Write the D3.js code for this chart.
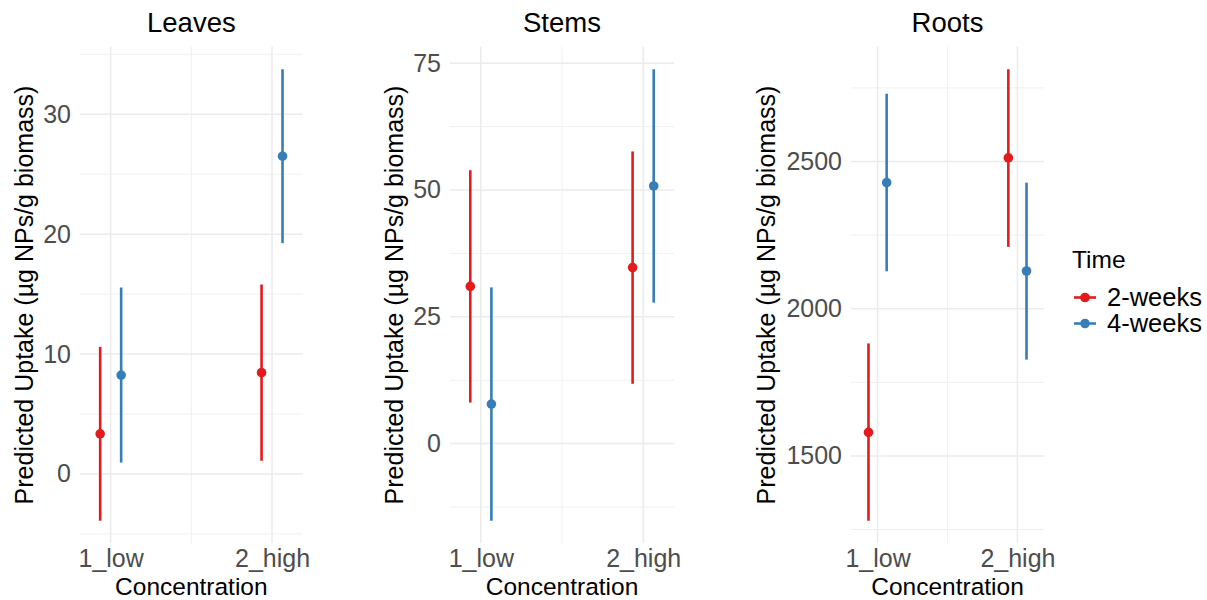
<!DOCTYPE html>
<html>
<head>
<meta charset="utf-8">
<script src="https://cdn.jsdelivr.net/npm/d3@7"></script>
<style>
  body { margin: 0; background: #fff; }
  text { font-family: "Liberation Sans", Arial, Helvetica, sans-serif; }
</style>
</head>
<body>
<svg id="chart"></svg>
<script>
// categories and series
const categories = ["1_low", "2_high"];
const times = ["2-weeks", "4-weeks"];
const panelNames = ["Leaves", "Stems", "Roots"];
const colors = ["#E41A1C", "#377EB8"];

// rows: 2-weeks, 4-weeks ; columns: 1_low, 2_high
const leavesFit   = [[3.35, 8.45], [8.25, 26.5]];
const leavesLower = [[-3.9, 1.1], [0.95, 19.25]];
const leavesUpper = [[10.6, 15.8], [15.55, 33.75]];

const stemsFit   = [[31.0, 34.7], [7.8, 50.8]];
const stemsLower = [[8.1, 11.8], [-15.2, 27.8]];
const stemsUpper = [[53.9, 57.6], [30.8, 73.8]];

const rootsFit   = [[1580, 2512], [2428, 2128]];
const rootsLower = [[1280, 2210], [2127, 1827]];
const rootsUpper = [[1882, 2813], [2730, 2428]];

// tick labels
const leavesTicks = [0, 10, 20, 30];
const leavesMinor = [-5, 5, 15, 25, 35];
const stemsTicks = [0, 25, 50, 75];
const stemsMinor = [-12.5, 12.5, 37.5, 62.5];
const rootsTicks = [1500, 2000, 2500];
const rootsMinor = [1250, 1750, 2250, 2750];

const yTitle = "Predicted Uptake (µg NPs/g biomass)";
const xTitle = "Concentration";

const W = 1207, H = 600;
const panelTop = 46.7, panelBottom = 543.3;

const panels = [
    { name: panelNames[0], fit: leavesFit, lo: leavesLower, hi: leavesUpper, ticks: leavesTicks, minor: leavesMinor, x0: 80, x1: 302.7, titleX: 33 },
    { name: panelNames[1], fit: stemsFit, lo: stemsLower, hi: stemsUpper, ticks: stemsTicks, minor: stemsMinor, x0: 450, x1: 674, titleX: 403 },
    { name: panelNames[2], fit: rootsFit, lo: rootsLower, hi: rootsUpper, ticks: rootsTicks, minor: rootsMinor, x0: 851, x1: 1044, titleX: 775 }
];

const svg = d3.select("#chart").attr("width", W).attr("height", H);

const dodge = 0.065;

panels.forEach(p => {
    const g = svg.append("g");

    // x: positions 1 and 2, with ggplot-ish padding
    const x = d3.scaleLinear().domain([0.81, 2.19]).range([p.x0, p.x1]);

    const minV = d3.min(p.lo.flat()), maxV = d3.max(p.hi.flat());
    const pad = (maxV - minV) * 0.05;
    const y = d3.scaleLinear().domain([minV - pad, maxV + pad]).range([panelBottom, panelTop]);

    // minor grid
    g.selectAll(".minor").data(p.minor).enter().append("line")
        .attr("x1", p.x0).attr("x2", p.x1)
        .attr("y1", d => y(d)).attr("y2", d => y(d))
        .attr("stroke", "#f0f0f0").attr("stroke-width", 1);
    g.append("line")
        .attr("x1", x(1.5)).attr("x2", x(1.5))
        .attr("y1", panelTop).attr("y2", panelBottom)
        .attr("stroke", "#f0f0f0").attr("stroke-width", 1);

    // major grid
    g.selectAll(".major").data(p.ticks).enter().append("line")
        .attr("x1", p.x0).attr("x2", p.x1)
        .attr("y1", d => y(d)).attr("y2", d => y(d))
        .attr("stroke", "#ebebeb").attr("stroke-width", 1.5);
    g.selectAll(".vmajor").data(categories).enter().append("line")
        .attr("x1", (d, i) => x(i + 1)).attr("x2", (d, i) => x(i + 1))
        .attr("y1", panelTop).attr("y2", panelBottom)
        .attr("stroke", "#ebebeb").attr("stroke-width", 1.5);

    // y axis labels
    const yAxis = g.append("g")
        .attr("transform", `translate(${p.x0},0)`)
        .call(d3.axisLeft(y).tickValues(p.ticks).tickFormat(d3.format("d")).tickSize(0).tickPadding(9));
    yAxis.select(".domain").remove();
    yAxis.selectAll("text")
        .attr("font-family", "Liberation Sans, Arial, sans-serif")
        .attr("font-size", 25).attr("fill", "#4d4d4d");

    // x axis labels
    const xAxis = g.append("g")
        .attr("transform", `translate(0,${panelBottom})`)
        .call(d3.axisBottom(x).tickValues([1, 2]).tickFormat((d, i) => categories[i]).tickSize(0).tickPadding(6));
    xAxis.select(".domain").remove();
    xAxis.selectAll("text")
        .attr("font-family", "Liberation Sans, Arial, sans-serif")
        .attr("font-size", 25).attr("fill", "#4d4d4d");

    // error bars and points
    times.forEach((t, ti) => {
        const off = ti === 0 ? -dodge : dodge;
        const rows = categories.map((c, ci) => ({ xv: ci + 1 + off, fit: p.fit[ti][ci], lo: p.lo[ti][ci], hi: p.hi[ti][ci] }));
        g.selectAll(".bar" + ti).data(rows).enter().append("line")
            .attr("x1", d => x(d.xv)).attr("x2", d => x(d.xv))
            .attr("y1", d => y(d.lo)).attr("y2", d => y(d.hi))
            .attr("stroke", colors[ti]).attr("stroke-width", 2.6);
        g.selectAll(".pt" + ti).data(rows).enter().append("circle")
            .attr("cx", d => x(d.xv)).attr("cy", d => y(d.fit))
            .attr("r", 4.8).attr("fill", colors[ti]);
    });

    // titles
    g.append("text")
        .attr("x", (p.x0 + p.x1) / 2).attr("y", 31.7)
        .attr("text-anchor", "middle").attr("font-size", 27.5).attr("fill", "#000")
        .text(p.name);
    g.append("text")
        .attr("x", (p.x0 + p.x1) / 2).attr("y", 594.8)
        .attr("text-anchor", "middle").attr("font-size", 24.5).attr("fill", "#000")
        .text(xTitle);
    g.append("text")
        .attr("transform", `translate(${p.titleX},${(panelTop + panelBottom) / 2}) rotate(-90)`)
        .attr("text-anchor", "middle").attr("font-size", 25).attr("fill", "#000")
        .text(yTitle);
});

// legend
const legend = svg.append("g");
legend.append("text")
    .attr("x", 1072).attr("y", 268).attr("font-size", 24.5).attr("fill", "#000")
    .text("Time");
const keyY = d3.scalePoint().domain(times).range([297.5, 323.5]);
times.forEach((t, i) => {
    legend.append("line")
        .attr("x1", 1074).attr("x2", 1096)
        .attr("y1", keyY(t)).attr("y2", keyY(t))
        .attr("stroke", colors[i]).attr("stroke-width", 2.6);
    legend.append("circle")
        .attr("cx", 1085).attr("cy", keyY(t)).attr("r", 4.8).attr("fill", colors[i]);
    legend.append("text")
        .attr("x", 1107).attr("y", keyY(t) + 8.5).attr("font-size", 25.5).attr("fill", "#000")
        .text(t);
});
</script>
</body>
</html>
